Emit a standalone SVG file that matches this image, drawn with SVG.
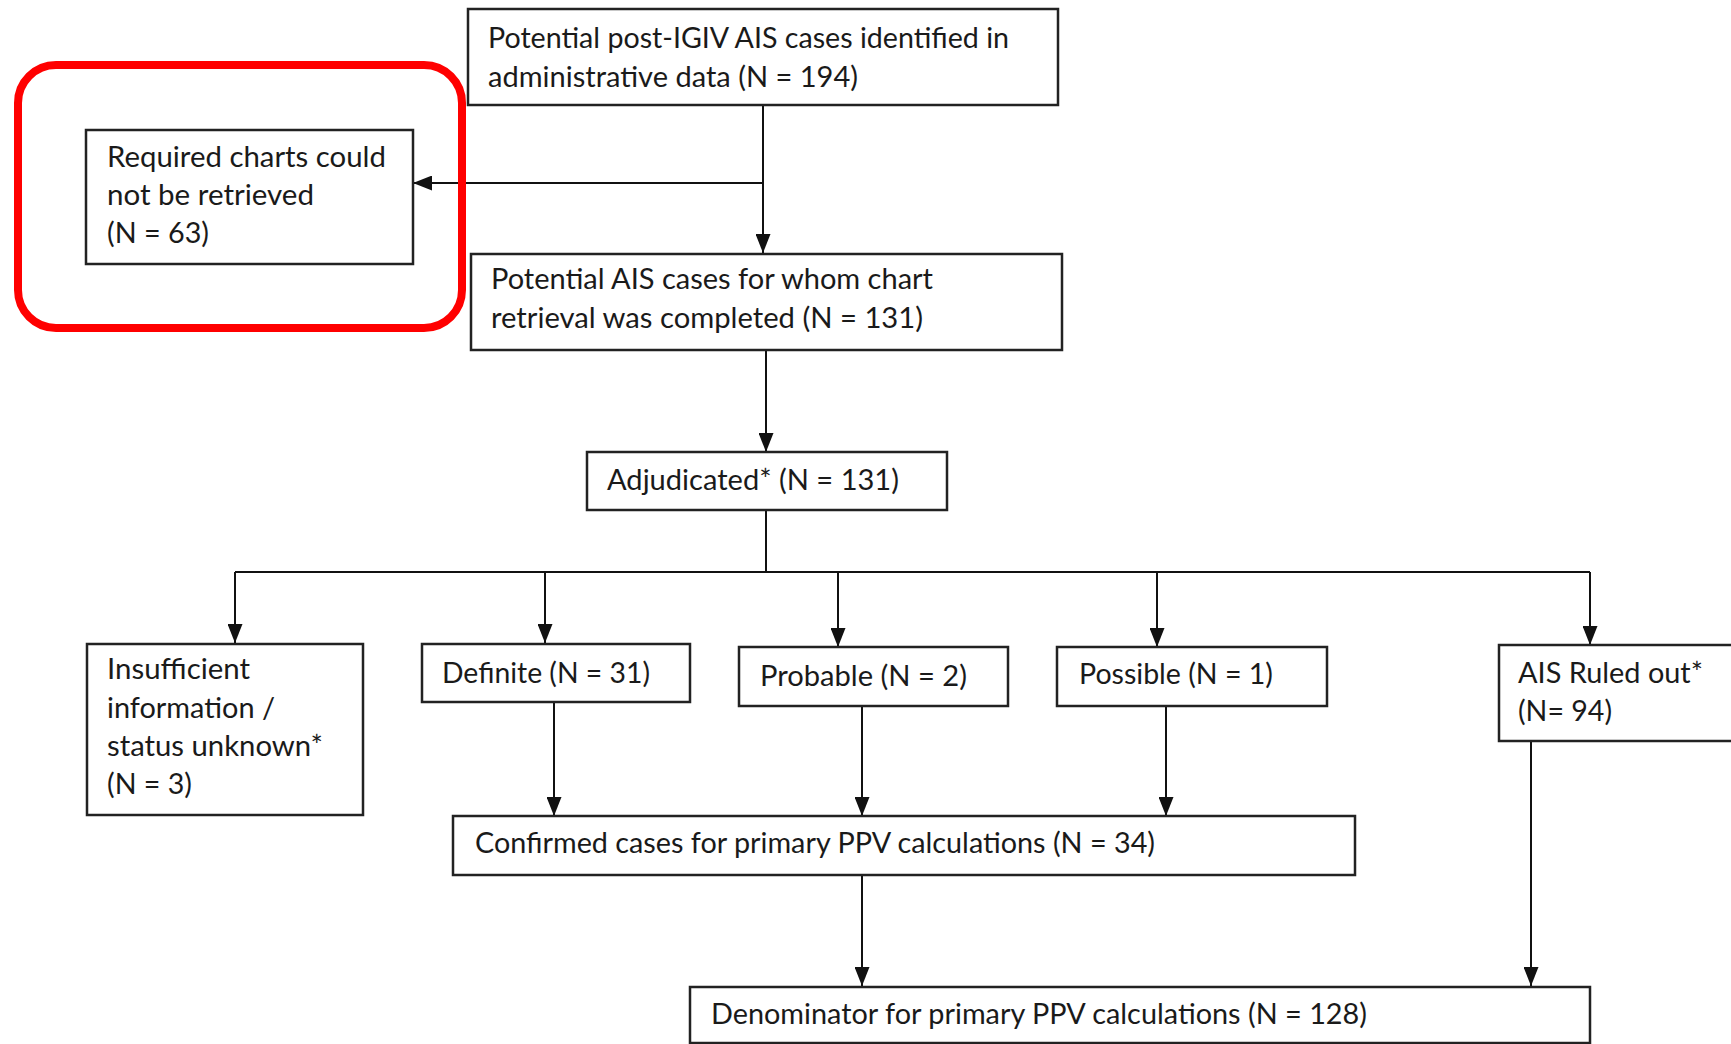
<svg xmlns="http://www.w3.org/2000/svg" width="1731" height="1044" viewBox="0 0 1731 1044">
<defs>
<marker id="ah" markerUnits="userSpaceOnUse" markerWidth="19" markerHeight="15" refX="19" refY="7.5" orient="auto">
<path d="M0,0 L19,7.5 L0,15 z" fill="#111"/>
</marker>
<style>
.box{fill:#fff;stroke:#222;stroke-width:2.5}
.t{font-family:Lato,"Liberation Sans",sans-serif;font-size:28px;fill:#1a1a1a}
.c{fill:none;stroke:#111;stroke-width:2}
</style>
</defs>
<rect width="1731" height="1044" fill="#fff"/>
<g id="connectors">
<line class="c" x1="763" y1="105" x2="763" y2="253" marker-end="url(#ah)"/>
<line class="c" x1="763" y1="183" x2="413" y2="183" marker-end="url(#ah)"/>
<line class="c" x1="766" y1="350" x2="766" y2="452" marker-end="url(#ah)"/>
<line class="c" x1="766" y1="510" x2="766" y2="572"/>
<line class="c" x1="235" y1="572" x2="1590" y2="572"/>
<line class="c" x1="235" y1="572" x2="235" y2="643" marker-end="url(#ah)"/>
<line class="c" x1="545" y1="572" x2="545" y2="643" marker-end="url(#ah)"/>
<line class="c" x1="838" y1="572" x2="838" y2="647" marker-end="url(#ah)"/>
<line class="c" x1="1157" y1="572" x2="1157" y2="647" marker-end="url(#ah)"/>
<line class="c" x1="1590" y1="572" x2="1590" y2="645" marker-end="url(#ah)"/>
<line class="c" x1="554" y1="702" x2="554" y2="816" marker-end="url(#ah)"/>
<line class="c" x1="862" y1="706" x2="862" y2="816" marker-end="url(#ah)"/>
<line class="c" x1="1166" y1="706" x2="1166" y2="816" marker-end="url(#ah)"/>
<line class="c" x1="862" y1="875" x2="862" y2="986" marker-end="url(#ah)"/>
<line class="c" x1="1531" y1="741" x2="1531" y2="986" marker-end="url(#ah)"/>
</g>
<g id="n-identified">
<rect class="box" x="468" y="9" width="590" height="96"/>
<text class="t" x="488" y="48" textLength="521" lengthAdjust="spacingAndGlyphs">Potential post-IGIV AIS cases identified in</text>
<text class="t" x="488" y="87" textLength="370" lengthAdjust="spacingAndGlyphs">administrative data (N = 194)</text>
</g>
<g id="n-notretrieved">
<rect class="box" x="86" y="130" width="327" height="134"/>
<text class="t" x="107" y="167" textLength="279" lengthAdjust="spacingAndGlyphs">Required charts could</text>
<text class="t" x="107" y="205" textLength="207" lengthAdjust="spacingAndGlyphs">not be retrieved</text>
<text class="t" x="107" y="243" textLength="102" lengthAdjust="spacingAndGlyphs">(N = 63)</text>
</g>
<g id="highlight">
<rect x="18" y="65" width="444" height="263" rx="38" ry="38" fill="none" stroke="#f00" stroke-width="8"/>
</g>
<g id="n-retrieved">
<rect class="box" x="471" y="254" width="591" height="96"/>
<text class="t" x="491" y="289" textLength="442" lengthAdjust="spacingAndGlyphs">Potential AIS cases for whom chart</text>
<text class="t" x="491" y="328" textLength="432" lengthAdjust="spacingAndGlyphs">retrieval was completed (N = 131)</text>
</g>
<g id="n-adjudicated">
<rect class="box" x="587" y="452" width="360" height="58"/>
<text class="t" x="607" y="490" textLength="292" lengthAdjust="spacingAndGlyphs">Adjudicated* (N = 131)</text>
</g>
<g id="n-insufficient">
<rect class="box" x="87" y="644" width="276" height="171"/>
<text class="t" x="107" y="679" textLength="143" lengthAdjust="spacingAndGlyphs">Insufficient</text>
<text class="t" x="107" y="718" textLength="168" lengthAdjust="spacingAndGlyphs">information /</text>
<text class="t" x="107" y="756" textLength="216" lengthAdjust="spacingAndGlyphs">status unknown*</text>
<text class="t" x="107" y="794" textLength="85" lengthAdjust="spacingAndGlyphs">(N = 3)</text>
</g>
<g id="n-definite">
<rect class="box" x="422" y="644" width="268" height="58"/>
<text class="t" x="442" y="683" textLength="208" lengthAdjust="spacingAndGlyphs">Definite (N = 31)</text>
</g>
<g id="n-probable">
<rect class="box" x="739" y="647" width="269" height="59"/>
<text class="t" x="760" y="686" textLength="207" lengthAdjust="spacingAndGlyphs">Probable (N = 2)</text>
</g>
<g id="n-possible">
<rect class="box" x="1057" y="647" width="270" height="59"/>
<text class="t" x="1079" y="684" textLength="194" lengthAdjust="spacingAndGlyphs">Possible (N = 1)</text>
</g>
<g id="n-ruledout">
<rect class="box" x="1499" y="645" width="245" height="96"/>
<text class="t" x="1518" y="683" textLength="185" lengthAdjust="spacingAndGlyphs">AIS Ruled out*</text>
<text class="t" x="1518" y="721" textLength="94" lengthAdjust="spacingAndGlyphs">(N= 94)</text>
</g>
<g id="n-confirmed">
<rect class="box" x="453" y="816" width="902" height="59"/>
<text class="t" x="475" y="853" textLength="680" lengthAdjust="spacingAndGlyphs">Confirmed cases for primary PPV calculations (N = 34)</text>
</g>
<g id="n-denominator">
<rect class="box" x="690" y="987" width="900" height="56"/>
<text class="t" x="711" y="1024" textLength="656" lengthAdjust="spacingAndGlyphs">Denominator for primary PPV calculations (N = 128)</text>
</g>
</svg>
